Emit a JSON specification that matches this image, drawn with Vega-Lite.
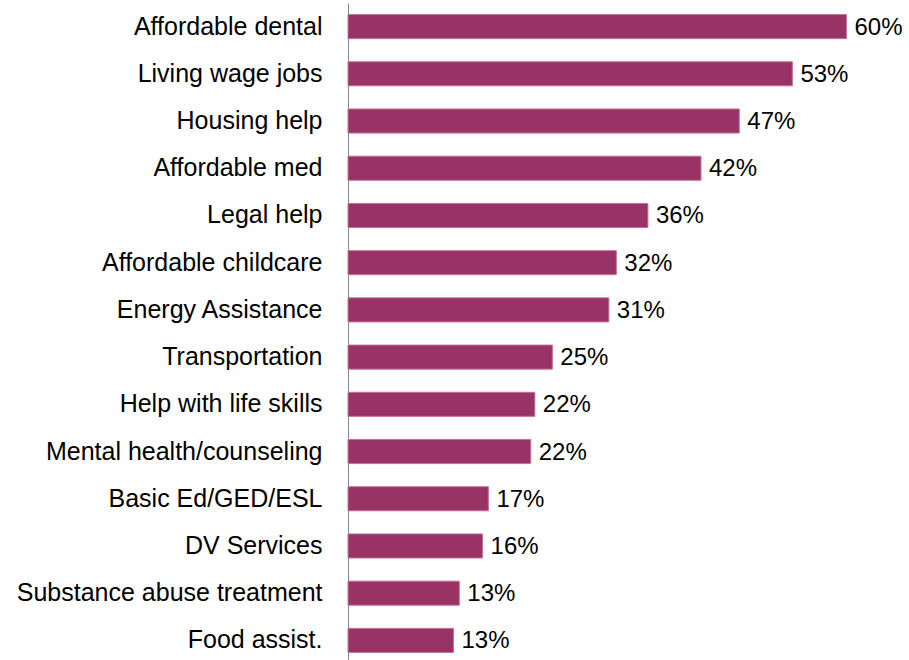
{
  "$schema": "https://vega.github.io/schema/vega-lite/v6.json",
  "autosize": {"type": "none"},
  "padding": {"left": 348, "top": 3, "right": 21, "bottom": 0},
  "width": 540,
  "height": 661,
  "background": "white",
  "config": {"view": {"stroke": null}, "font": "Liberation Sans"},
  "data": {
    "values": [
      {"need": "Affordable dental", "pct": 0.600},
      {"need": "Living wage jobs", "pct": 0.5349},
      {"need": "Housing help", "pct": 0.471},
      {"need": "Affordable med", "pct": 0.4249},
      {"need": "Legal help", "pct": 0.361},
      {"need": "Affordable childcare", "pct": 0.323},
      {"need": "Energy Assistance", "pct": 0.314},
      {"need": "Transportation", "pct": 0.246},
      {"need": "Help with life skills", "pct": 0.2249},
      {"need": "Mental health/counseling", "pct": 0.220},
      {"need": "Basic Ed/GED/ESL", "pct": 0.169},
      {"need": "DV Services", "pct": 0.162},
      {"need": "Substance abuse treatment", "pct": 0.134},
      {"need": "Food assist.", "pct": 0.127}
    ]
  },
  "encoding": {
    "y": {
      "field": "need",
      "type": "nominal",
      "sort": null,
      "scale": {"paddingInner": 0.49, "paddingOuter": 0.245},
      "axis": {
        "title": null,
        "ticks": false,
        "domainColor": "#868686",
        "domainWidth": 1,
        "labelFontSize": 25,
        "labelColor": "#000000",
        "labelPadding": 26,
        "labelFont": "Liberation Sans",
        "labelLimit": 400
      }
    },
    "x": {
      "field": "pct",
      "type": "quantitative",
      "scale": {"domain": [0, 0.65]},
      "axis": null
    }
  },
  "layer": [
    {"mark": {"type": "bar", "color": "#993366", "stroke": "#c27499", "strokeWidth": 1}},
    {
      "mark": {"type": "text", "align": "left", "baseline": "middle", "dx": 8, "dy": 1, "fontSize": 24, "color": "#000000", "font": "Liberation Sans"},
      "encoding": {"text": {"field": "pct", "type": "quantitative", "format": ".0%"}}
    }
  ]
}
